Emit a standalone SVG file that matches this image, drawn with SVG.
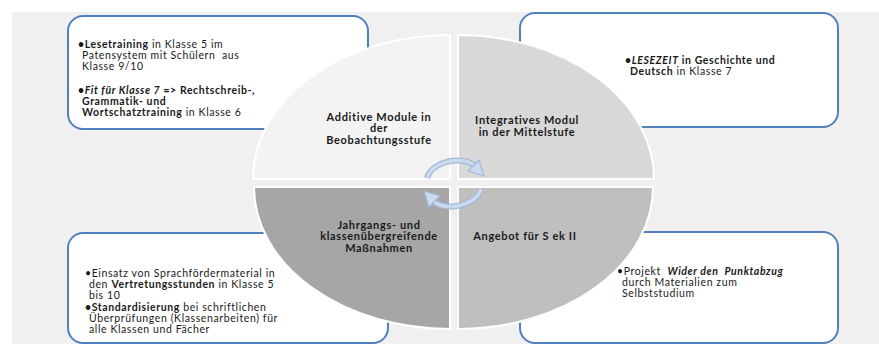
<svg xmlns="http://www.w3.org/2000/svg" width="879" height="344" viewBox="0 0 879 344">
<style>
.box{fill:#ffffff;stroke:#4f81bd;stroke-width:2}
.q{stroke:#ffffff;stroke-width:2}
.ql{font-family:Lato,"Open Sans",sans-serif;font-weight:bold;font-size:11px;letter-spacing:0.65px;fill:#1a1a1a;text-anchor:middle}
.t{font-family:Lato,"Open Sans",sans-serif;font-size:10.5px;letter-spacing:0.6px;fill:#1a1a1a}
.b{font-weight:bold}
.bi{font-weight:bold;font-style:italic}
.arc{fill:none;stroke:#9fb9dc;stroke-width:6;stroke-linecap:butt}
.arci{fill:none;stroke:#cbdaee;stroke-width:3.5}
.head{fill:#cbdaee;stroke:#9fb9dc;stroke-width:1.2;stroke-linejoin:round}
</style>
<rect x="12" y="12" width="867" height="332" fill="#f0f0f0"/>
<g id="box-tl"><rect class="box" x="68" y="16" width="300" height="113" rx="15"/>
<text class="t" x="78" y="47.5"><tspan class="b">•Lesetraining</tspan> in Klasse 5 im</text>
<text class="t" x="82" y="58.5" xml:space="preserve">Patensystem mit Schülern  aus</text>
<text class="t" x="82" y="69.5">Klasse 9/10</text>
<text class="t" x="78" y="93.5"><tspan class="b">•</tspan><tspan class="bi">Fit für Klasse 7</tspan><tspan class="b"> =&gt; Rechtschreib-,</tspan></text>
<text class="t b" x="82" y="104.5">Grammatik- und</text>
<text class="t" x="82" y="115.5"><tspan class="b">Wortschatztraining</tspan> in Klasse 6</text>
</g>
<g id="box-tr"><rect class="box" x="520" y="13" width="318" height="114" rx="15"/>
<text class="t" x="625" y="63.5"><tspan class="b">•</tspan><tspan class="bi">LESEZEIT</tspan><tspan class="b"> in Geschichte und</tspan></text>
<text class="t" x="630" y="74.5"><tspan class="b">Deutsch</tspan> in Klasse 7</text>
</g>
<g id="box-bl"><rect class="box" x="68" y="233" width="320" height="110" rx="15"/>
<text class="t" x="85" y="276.5">•Einsatz von Sprachfördermaterial in</text>
<text class="t" x="89" y="287.5">den <tspan class="b">Vertretungsstunden</tspan> in Klasse 5</text>
<text class="t" x="89" y="298.5">bis 10</text>
<text class="t" x="85" y="310.5"><tspan class="b">•Standardisierung</tspan> bei schriftlichen</text>
<text class="t" x="89" y="321.5">Überprüfungen (Klassenarbeiten) für</text>
<text class="t" x="89" y="332.5">alle Klassen und Fächer</text>
</g>
<g id="box-br"><rect class="box" x="520" y="232" width="318" height="111" rx="15"/>
<text class="t" x="617" y="274.5" xml:space="preserve">•Projekt  <tspan class="bi">Wider den  Punktabzug</tspan></text>
<text class="t" x="622" y="285.5">durch Materialien zum</text>
<text class="t" x="622" y="296.5">Selbststudium</text>
</g>
<g id="q-tl"><path class="q" fill="#f3f3f3" d="M450,179 H253 A197,144 0 0 1 450,35 Z"/>
<text class="ql" x="379" y="120.5">Additive Module in</text>
<text class="ql" x="379" y="132">der</text>
<text class="ql" x="379" y="143.5">Beobachtungsstufe</text>
</g>
<g id="q-tr"><path class="q" fill="#d8d8d8" d="M458,179 V35 A196,144 0 0 1 654,179 Z"/>
<text class="ql" x="527" y="124">Integratives Modul</text>
<text class="ql" x="527" y="135.5">in der Mittelstufe</text>
</g>
<g id="q-bl"><path class="q" fill="#a6a6a6" d="M450,187 H254 A196,142 0 0 0 450,329 Z"/>
<text class="ql" x="379" y="228.5">Jahrgangs- und</text>
<text class="ql" x="379" y="240">klassenübergreifende</text>
<text class="ql" x="379" y="251.5">Maßnahmen</text>
</g>
<g id="q-br"><path class="q" fill="#bfbfbf" d="M458,187 H653 A195,142 0 0 1 458,329 Z"/>
<text class="ql" x="525" y="240">Angebot für S ek II</text>
</g>
<g id="connectors">
<path class="arc" d="M427,178 C432,161 463,155 475,166"/>
<path class="arci" d="M427,178 C432,161 463,155 475,166"/>
<path class="head" d="M468,171 L479,160 L484,176 Z"/>
<path class="arc" d="M481,189 C476,206 445,212 433,201"/>
<path class="arci" d="M481,189 C476,206 445,212 433,201"/>
<path class="head" d="M440,196 L429,207 L424,191 Z"/>
</g>
</svg>
